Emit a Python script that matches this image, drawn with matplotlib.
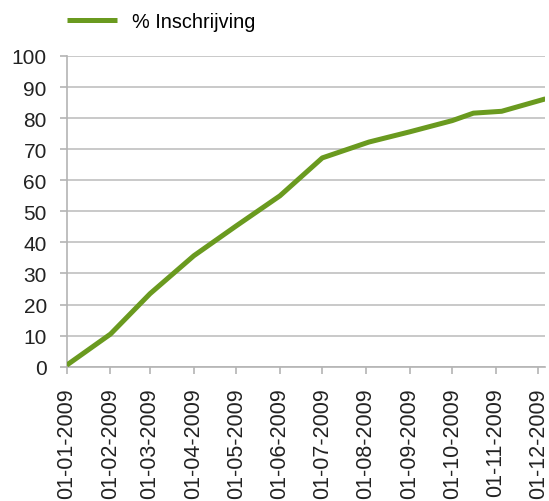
import matplotlib
matplotlib.use("Agg")
import matplotlib.pyplot as plt
import matplotlib.dates as mdates
import pandas as pd

plt.rcParams["font.family"] = ["Liberation Sans", "DejaVu Sans"]

# readings from the reference picture
dates = ["2009-01-01", "2009-02-01", "2009-03-01", "2009-04-01", "2009-05-01",
         "2009-06-01", "2009-07-01", "2009-08-03", "2009-09-01", "2009-10-01",
         "2009-10-16", "2009-11-05", "2009-12-06"]
pct = [0.5, 10.5, 23.5, 35.7, 45.3, 55.0, 67.2, 72.3, 75.6, 79.2, 81.6, 82.2, 86.2]
tick_dates = pd.date_range("2009-01-01", "2009-12-01", freq="MS")
series_label = "% Inschrijving"

GREEN = "#6a9a1f"
GRID = "#c9c9c9"
AXIS = "#b4b4b4"

x = pd.to_datetime(dates)

fig = plt.figure(figsize=(5.49, 5.02), dpi=100)
ax = fig.add_axes([0.1215, 0.2675, 0.872, 0.619])

ax.plot(x, pct, color=GREEN, lw=3.6, solid_capstyle="butt",
        solid_joinstyle="round", label=series_label, zorder=3)

ax.set_ylim(0, 100)
ax.set_yticks(range(0, 101, 10))
ax.set_xlim(pd.Timestamp("2009-01-01"), pd.Timestamp("2009-12-06"))
ax.set_xticks(tick_dates)
ax.xaxis.set_major_formatter(mdates.DateFormatter("%d-%m-%Y"))
plt.setp(ax.get_xticklabels(), rotation=90, ha="center", va="top")

ax.grid(axis="y", color=GRID, lw=1.4, zorder=0)
for s in ["top", "right"]:
    ax.spines[s].set_visible(False)
for s in ["left", "bottom"]:
    ax.spines[s].set_color(AXIS)
    ax.spines[s].set_linewidth(1.2)
ax.tick_params(axis="y", length=4.8, width=1.2, color=AXIS, labelsize=15,
               pad=9.5, labelcolor="#222222")
ax.tick_params(axis="x", length=5, width=1.2, color=AXIS, labelsize=15.5,
               pad=10, labelcolor="#222222")

fig.legend(loc="center left", bbox_to_anchor=(0.122, 0.955), frameon=False,
           fontsize=14.3, handlelength=2.5, handletextpad=0.75, borderpad=0,
           borderaxespad=0)

fig.savefig("out.png", dpi=100, facecolor="white")
